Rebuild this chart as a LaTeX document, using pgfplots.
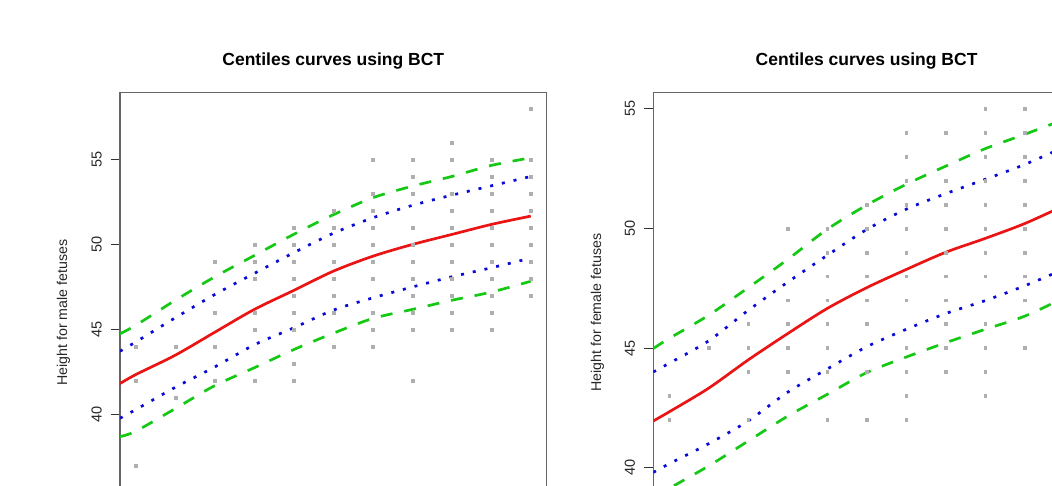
\documentclass[border=0pt]{standalone}
\usepackage{pgfplots}
\pgfplotsset{compat=1.18}
\usepackage{pgfplotstable}
\usepackage{fontspec}
\setmainfont{Liberation Sans}

\definecolor{rred}{RGB}{235,20,20}
\definecolor{rblue}{RGB}{10,10,215}
\definecolor{rgreen}{RGB}{20,200,20}
\definecolor{rgrey}{RGB}{175,175,175}

% observed heights, one row per fetus
\pgfplotstableread{
x y
30 44
30 42
30 37
31 44
31 41
32 49
32 46
32 44
32 42
33 50
33 49
33 48
33 46
33 45
33 42
34 51
34 50
34 49
34 48
34 47
34 46
34 45
34 43
34 42
35 52
35 51
35 50
35 49
35 48
35 47
35 46
35 44
36 55
36 53
36 52
36 51
36 50
36 49
36 48
36 46
36 45
36 44
37 55
37 54
37 53
37 51
37 50
37 49
37 48
37 47
37 46
37 45
37 42
38 56
38 55
38 53
38 52
38 51
38 50
38 49
38 48
38 47
38 46
38 45
39 55
39 54
39 53
39 52
39 51
39 50
39 49
39 48
39 47
39 46
39 45
40 58
40 55
40 54
40 53
40 52
40 51
40 50
40 49
40 48
40 47
}\malepts

\pgfplotstableread{
x y
30 43
30 42
31 45
32 46
32 45
32 44
32 42
33 50
33 47
33 46
33 45
33 44
34 50
34 49
34 48
34 47
34 46
34 45
34 44
34 42
35 51
35 50
35 49
35 48
35 47
35 46
35 44
35 42
36 54
36 53
36 52
36 51
36 50
36 49
36 48
36 47
36 45
36 44
36 43
36 42
37 54
37 52
37 51
37 50
37 49
37 48
37 47
37 46
37 45
37 44
38 55
38 54
38 53
38 52
38 51
38 50
38 49
38 48
38 46
38 45
38 44
38 43
39 55
39 54
39 53
39 52
39 51
39 50
39 49
39 48
39 47
39 45
}\femalepts

% fitted centiles: lower green, lower blue, median, upper blue, upper green
\pgfplotstableread{
x     lg    lb    med   ub    ug
29.6  38.70 39.78 41.82 43.72 44.75
30    39.02 40.29 42.35 44.27 45.25
31    40.35 41.60 43.49 45.69 46.72
32    41.70 42.80 44.84 47.06 48.10
33    42.75 44.10 46.18 48.30 49.35
34    43.82 45.10 47.30 49.52 50.60
35    44.78 46.14 48.43 50.66 51.75
36    45.65 46.86 49.31 51.57 52.75
37    46.18 47.50 50.00 52.30 53.43
38    46.72 48.10 50.59 52.90 54.00
39    47.20 48.63 51.18 53.45 54.65
40    47.84 49.20 51.67 54.00 55.10
}\malecent

\pgfplotstableread{
x     lg    lb    med   ub    ug
29.6  38.73 39.80 41.95 44.00 44.98
30    39.13 40.16 42.33 44.36 45.40
31    40.07 41.00 43.32 45.30 46.37
32    41.11 41.95 44.50 46.57 47.52
33    42.15 43.15 45.60 47.75 48.70
34    43.06 44.12 46.65 48.87 49.96
35    43.97 45.05 47.52 49.95 50.97
36    44.62 45.78 48.28 50.80 51.84
37    45.22 46.44 49.00 51.45 52.60
38    45.78 46.98 49.58 52.05 53.33
39    46.33 47.60 50.20 52.67 53.93
40    47.10 48.30 50.95 53.40 54.55
}\femalecent

\pgfplotsset{
  rpanel/.style={
    scale only axis,
    width=426.6pt, height=439.5pt,
    anchor=south west,
    xmin=29.6, xmax=40.4,
    xtick=\empty,
    ytick pos=left,
    tick align=outside,
    major tick length=9pt,
    ytick style={black!80, line width=1pt},
    axis line style={black!60, line width=1.2pt},
    /pgf/number format/assume math mode=true,
    yticklabel shift=9pt,
    yticklabel style={font=\fontsize{14.5}{17}\selectfont, rotate=90, anchor=south, inner sep=0pt, text=black!85},
    title style={font=\bfseries\fontsize{17.5}{20}\selectfont, at={(0.5,1)}, anchor=base, yshift=20.5pt},
    title={Centiles curves using BCT},
  },
  pts/.style={only marks, mark=square*, mark size=1.4pt, color=rgrey},
  med/.style={rred, line width=2.7pt, smooth},
  c10/.style={rblue, line width=2.7pt, dash pattern=on 3pt off 9pt, smooth},
  c03/.style={rgreen, line width=2.7pt, dash pattern=on 12pt off 12pt, smooth},
}

\begin{document}
\begin{tikzpicture}
\useasboundingbox (0,0) rectangle (1052pt,485pt);
\clip (0,0) rectangle (1052pt,485pt);

\begin{axis}[rpanel, at={(120pt,-47pt)}, ymin=33.09, ymax=58.94, ytick={40,45,50,55}]
\addplot[pts] table[x=x, y=y] {\malepts};
\addplot[c03] table[x=x, y=lg] {\malecent};
\addplot[c10] table[x=x, y=lb] {\malecent};
\addplot[med] table[x=x, y=med] {\malecent};
\addplot[c10] table[x=x, y=ub] {\malecent};
\addplot[c03] table[x=x, y=ug] {\malecent};
\end{axis}

\begin{axis}[rpanel, at={(653.3pt,-47pt)}, ymin=37.31, ymax=55.68, ytick={40,45,50,55}]
\addplot[pts] table[x=x, y=y] {\femalepts};
\addplot[c03] table[x=x, y=lg] {\femalecent};
\addplot[c10] table[x=x, y=lb] {\femalecent};
\addplot[med] table[x=x, y=med] {\femalecent};
\addplot[c10] table[x=x, y=ub] {\femalecent};
\addplot[c03] table[x=x, y=ug] {\femalecent};
\end{axis}

\node[rotate=90, anchor=base, text=black!85, font=\fontsize{14.2}{17}\selectfont] at (67pt,172.5pt) {Height for male fetuses};
\node[rotate=90, anchor=base, text=black!85, font=\fontsize{14.2}{17}\selectfont] at (601pt,172.5pt) {Height for female fetuses};
\end{tikzpicture}
\end{document}
